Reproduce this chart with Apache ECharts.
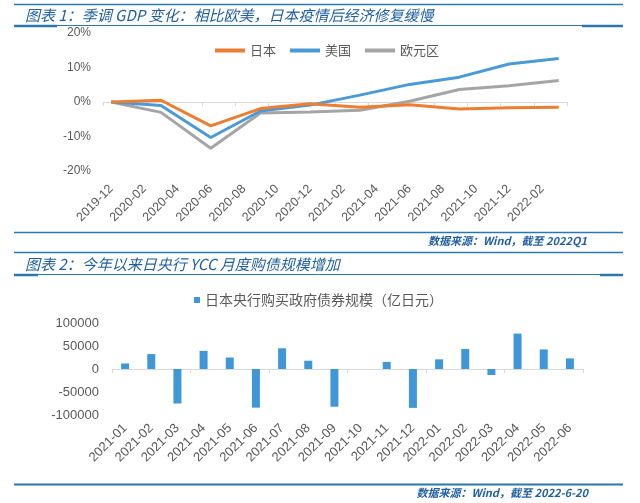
<!DOCTYPE html>
<html>
<head>
<meta charset="utf-8">
<script src="https://cdn.jsdelivr.net/npm/echarts@6/dist/echarts.min.js"></script>
<style>
html,body{margin:0;padding:0;background:#fff;}
#main{width:640px;height:503px;}
</style>
</head>
<body>
<div id="main"></div>
<script>
// ---- Chart 1 data: seasonally adjusted GDP change vs 2019-12 (%) ----
const gdpAxisMonths = ['2019-12','2020-01','2020-02','2020-03','2020-04','2020-05','2020-06','2020-07','2020-08','2020-09','2020-10','2020-11','2020-12','2021-01','2021-02','2021-03','2021-04','2021-05','2021-06','2021-07','2021-08','2021-09','2021-10','2021-11','2021-12','2022-01','2022-02','2022-03'];
const gdpQuarters = ['2019-12','2020-03','2020-06','2020-09','2020-12','2021-03','2021-06','2021-09','2021-12','2022-03'];
const japanGdp = [0, 0.5, -6.9, -1.9, -0.5, -1.5, -0.8, -2.0, -1.7, -1.5];
const usGdp    = [0, -1.0, -10.3, -2.6, -0.9, 2.0, 5.1, 7.2, 11.0, 12.6];
const euroGdp  = [0, -3.0, -13.4, -3.2, -2.9, -2.4, 0.2, 3.6, 4.7, 6.2];
const gdpSeriesNames = ['日本','美国','欧元区'];

// ---- Chart 2 data: BOJ monthly government bond purchases (100m JPY) ----
const yccMonths = ['2021-01','2021-02','2021-03','2021-04','2021-05','2021-06','2021-07','2021-08','2021-09','2021-10','2021-11','2021-12','2022-01','2022-02','2022-03','2022-04','2022-05','2022-06'];
const bojPurchases = [12000, 32500, -75000, 39500, 25000, -84000, 45000, 18000, -82000, 0, 15500, -84500, 21000, 43500, -13000, 77000, 42500, 23000];
const bojSeriesName = '日本央行购买政府债券规模（亿日元）';

// ---- texts ----
const title1 = '图表 1：季调 GDP 变化：相比欧美，日本疫情后经济修复缓慢';
const title2 = '图表 2：今年以来日央行 YCC 月度购债规模增加';
const source1 = '数据来源：Wind，截至 2022Q1';
const source2 = '数据来源：Wind，截至 2022-6-20';

function toMonthly(values) {
  return gdpAxisMonths.map(m => {
    const i = gdpQuarters.indexOf(m);
    return i >= 0 ? values[i] : null;
  });
}

const LINE = '#2a78ad';
const TITLE = '#1f5f9f';
const AXISTXT = '#595959';
const FONT = '"Liberation Sans", Arial, sans-serif';
const CJK = '"Noto Sans CJK SC", sans-serif';

function hline(x1, x2, y, w, color) {
  return { type: 'line', silent: true, shape: { x1: x1, y1: y, x2: x2, y2: y }, style: { stroke: color || LINE, lineWidth: w } };
}
function txt(x, y, text, font, align, color) {
  return { type: 'text', silent: true, x: x, y: y, style: { text: text, font: font, fill: color || TITLE, align: align || 'left', verticalAlign: 'middle' } };
}

const chart = echarts.init(document.getElementById('main'), null, { renderer: 'canvas' });
const option = {
  animation: false,
  backgroundColor: '#fff',
  color: ['#ED7D31', '#4A9AD6', '#A5A5A5'],
  graphic: [
    hline(14, 623, 4.5, 1.5),
    txt(25, 15, title1, 'italic 15px ' + CJK),
    hline(14, 623, 25.5, 1),
    hline(14, 57, 26, 2.5),
    hline(582, 623, 26, 2.5),
    hline(14, 623, 232.5, 1.5),
    txt(587, 241, source1, 'italic bold 11px ' + CJK, 'right'),
    hline(14, 623, 252.5, 1.5),
    txt(25, 264, title2, 'italic 15px ' + CJK),
    hline(14, 623, 274.5, 1),
    hline(14, 38, 275, 2.5),
    hline(600, 623, 275, 2.5),
    hline(14, 623, 484.5, 2),
    txt(588, 493, source2, 'italic bold 11px ' + CJK, 'right')
  ],
  legend: [
    {
      data: gdpSeriesNames,
      left: 210, top: 39,
      icon: 'rect', itemWidth: 30, itemHeight: 4, itemGap: 14,
      textStyle: { color: AXISTXT, fontSize: 13, fontFamily: CJK }
    },
    {
      data: [bojSeriesName],
      left: 189, top: 288,
      icon: 'rect', itemWidth: 6, itemHeight: 6,
      textStyle: { color: AXISTXT, fontSize: 14, fontFamily: CJK }
    }
  ],
  grid: [
    { left: 103, top: 33, width: 464, height: 138 },
    { left: 112, top: 323, width: 471, height: 92 }
  ],
  xAxis: [
    {
      type: 'category', gridIndex: 0, data: gdpAxisMonths, position: 'bottom',
      axisLine: { show: false, onZero: false }, axisTick: { show: false },
      axisLabel: { interval: 1, rotate: 45, margin: 16, color: AXISTXT, fontSize: 12.5, fontFamily: FONT }
    },
    {
      type: 'category', gridIndex: 0, data: gdpAxisMonths, position: 'bottom',
      axisLine: { show: true, onZero: true, lineStyle: { color: '#D9D9D9', width: 1 } },
      axisTick: { show: true, interval: 1, length: 4, lineStyle: { color: '#D9D9D9' } },
      axisLabel: { show: false }
    },
    {
      type: 'category', gridIndex: 1, data: yccMonths, position: 'bottom',
      axisLine: { show: false, onZero: false }, axisTick: { show: false },
      axisLabel: { interval: 0, rotate: 45, margin: 11, color: AXISTXT, fontSize: 13, fontFamily: FONT }
    },
    {
      type: 'category', gridIndex: 1, data: yccMonths, position: 'bottom',
      axisLine: { show: true, onZero: true, lineStyle: { color: '#D9D9D9', width: 1 } },
      axisTick: { show: true, length: 4, lineStyle: { color: '#D9D9D9' } },
      axisLabel: { show: false }
    }
  ],
  yAxis: [
    {
      type: 'value', gridIndex: 0, min: -20, max: 20, interval: 10,
      axisLine: { show: false }, axisTick: { show: false }, splitLine: { show: false },
      axisLabel: { margin: 12, color: AXISTXT, fontSize: 12, fontFamily: FONT, formatter: v => v + '%' }
    },
    {
      type: 'value', gridIndex: 1, min: -100000, max: 100000, interval: 50000,
      axisLine: { show: false }, axisTick: { show: false }, splitLine: { show: false },
      axisLabel: { margin: 13, color: AXISTXT, fontSize: 13, fontFamily: FONT, formatter: v => String(v) }
    }
  ],
  series: [
    { name: gdpSeriesNames[0], type: 'line', xAxisIndex: 0, yAxisIndex: 0, data: toMonthly(japanGdp), connectNulls: true, showSymbol: false, lineStyle: { width: 3, color: '#ED7D31' }, itemStyle: { color: '#ED7D31' }, z: 4 },
    { name: gdpSeriesNames[1], type: 'line', xAxisIndex: 0, yAxisIndex: 0, data: toMonthly(usGdp), connectNulls: true, showSymbol: false, lineStyle: { width: 3, color: '#4A9AD6' }, itemStyle: { color: '#4A9AD6' }, z: 3 },
    { name: gdpSeriesNames[2], type: 'line', xAxisIndex: 0, yAxisIndex: 0, data: toMonthly(euroGdp), connectNulls: true, showSymbol: false, lineStyle: { width: 3, color: '#A5A5A5' }, itemStyle: { color: '#A5A5A5' }, z: 2 },
    { name: bojSeriesName, type: 'bar', xAxisIndex: 3, yAxisIndex: 1, data: bojPurchases, barWidth: 8, itemStyle: { color: '#3F97D8' } }
  ]
};
chart.setOption(option);
</script>
</body>
</html>
